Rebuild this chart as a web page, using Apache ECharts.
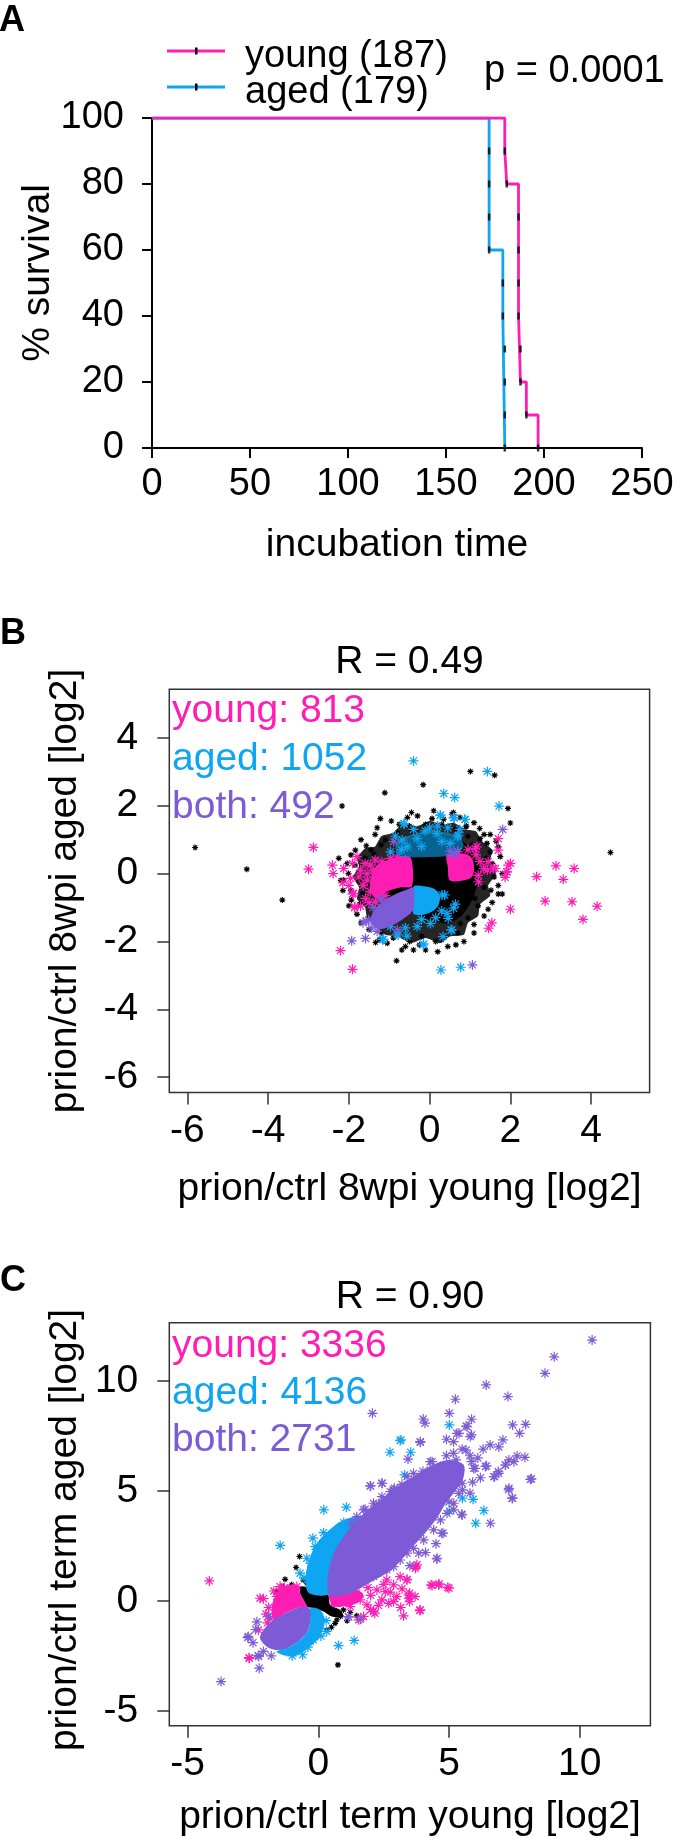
<!DOCTYPE html>
<html><head><meta charset="utf-8">
<script src="https://cdn.jsdelivr.net/npm/echarts@6/dist/echarts.min.js"></script>
<style>html,body{margin:0;padding:0;background:#fff}#c{width:700px;height:1847px}</style>
</head><body><div id="c"></div>
<script>
const PINK='#FF1DB4', BLUE='#0EA5F2', PURPLE='#7E5BD6';
const FONT='"Liberation Sans", Arial, Helvetica, sans-serif';

// ---------- Panel A : Kaplan-Meier ----------
const youngTimes=[0,180,181,187,188,191,197];
const youngSurv=[100,90,80,40,20,10,0];
const agedTimes=[0,172,179,180];
const agedSurv=[100,60,40,0];
const youngDeathTimes=[180,181,187,187,187,187,188,188,191,197];
const agedDeathTimes=[172,172,172,172,179,179,180,180,180,180];
const deathLevels=[90,80,70,60,50,40,30,20,10,0];
const legendLabels=['young (187)','aged (179)'];
const pValueText='p = 0.0001';

// ---------- Panel B : 8wpi ----------
const bTicks=[-6,-4,-2,0,2,4];
const bCounts=['young: 813','aged: 1052','both: 492'];
const bBlackHaloOuter=[[-1.8,0.45],[-1.6,0.75],[-1.35,0.8],[-1.2,1.1],[-0.9,1.2],[-0.7,1.45],[-0.3,1.4],[0.0,1.55],[0.35,1.45],[0.6,1.5],[0.9,1.3],[1.15,1.25],[1.3,0.95],[1.55,0.7],[1.5,0.35],[1.65,0.0],[1.45,-0.35],[1.5,-0.65],[1.25,-0.9],[1.2,-1.25],[0.95,-1.45],[0.85,-1.8],[0.5,-1.85],[0.25,-2.05],[-0.1,-1.9],[-0.45,-2.05],[-0.8,-1.85],[-1.1,-1.8],[-1.35,-1.55],[-1.55,-1.3],[-1.6,-1.0],[-1.8,-0.75],[-1.75,-0.4],[-1.9,-0.1],[-1.75,0.2]];
const bBlackHaloInner=[[-0.81,0.79],[-0.48,1.08],[0.02,1.18],[0.51,1.13],[0.84,0.94],[1.05,0.64],[1.25,0.2],[1.17,-0.39],[1.01,-0.88],[0.76,-1.27],[0.43,-1.47],[0.02,-1.37],[-0.4,-1.17],[-0.81,-0.98],[-1.06,-0.49],[-0.97,0.3]];
const bBlackCore=[[-0.49,0.48],[0.43,0.51],[0.51,-0.19],[0.51,-0.44],[-0.48,-0.44]];
const bPinkLeft=[[-1.3,0.25],[-0.97,0.42],[-0.68,0.51],[-0.46,0.45],[-0.44,-0.37],[-0.73,-0.41],[-1.06,-0.53],[-1.32,-0.73],[-1.47,-0.49],[-1.45,-0.09]];
const bPinkRight=[[0.43,0.54],[0.84,0.59],[1.05,0.45],[1.1,0.1],[1.01,-0.14],[0.51,-0.21],[0.45,0.2]];
const bBlueTop=[[-0.81,0.94],[-0.48,1.13],[0.02,1.28],[0.51,1.18],[0.77,1.03],[0.84,0.79],[0.68,0.57],[0.43,0.51],[-0.48,0.48],[-0.81,0.54]];
const bBlueBottom=[[-0.4,-0.39],[-0.15,-0.37],[0.1,-0.44],[0.25,-0.63],[0.22,-0.93],[0.06,-1.12],[-0.19,-1.22],[-0.41,-1.17]];
const bPurpleBlob=[[-0.4,-0.41],[-0.56,-0.47],[-0.89,-0.63],[-1.18,-0.83],[-1.38,-1.09],[-1.47,-1.37],[-1.38,-1.58],[-1.18,-1.63],[-0.89,-1.51],[-0.6,-1.29],[-0.41,-1.07],[-0.38,-0.73]];
const bBlackStars=[[-5.81,0.77],[-4.53,0.13],[-3.65,-0.78],[-2.17,1.99],[-1.11,2.38],[-0.16,2.62],[1.01,3.01],[1.61,2.9],[4.48,0.62],[-1.22,1.62],[0.59,1.8],[1.94,1.92],[2.0,1.49],[-0.69,-2.25],[-0.82,-2.57],[0.15,-2.0],[-1.34,-2.03],[1.52,-0.49],[1.7,-0.6],[1.12,-0.73],[1.7,0.79],[1.24,1.33],[0.9,1.38],[-1.84,0.69],[-1.57,0.82],[-2.01,0.0],[-2.15,-0.5],[-1.94,-0.78],[-0.44,1.26],[0.06,1.62],[0.91,1.4],[-1.1,0.99],[-1.38,0.57],[-2.04,0.3],[-2.13,-0.19],[-1.73,-0.9],[0.76,-1.47],[0.51,-1.71],[1.42,0.89],[1.5,0.64],[1.25,1.03],[1.05,0.84],[-1.6,0.45],[-1.5,-0.3],[-1.65,-0.6],[-1.4,-1.3],[-1.2,-1.75],[-0.9,-1.9],[-0.5,-2.0],[-0.2,-1.85],[0.3,-1.95],[0.7,-1.75],[0.95,-1.3],[1.2,-0.95],[1.35,-0.4],[1.45,0.1],[1.4,0.45],[1.2,0.75],[0.95,1.1],[0.65,1.3],[0.3,1.45],[-0.1,1.45],[-0.5,1.4],[-0.8,1.2],[-1.2,0.85],[-1.45,0.7],[-0.3,1.7],[0.35,1.6],[-0.75,1.45],[1.1,-1.5],[0.2,-2.3],[-0.4,-2.25],[1.6,-0.1],[1.55,0.3],[-1.75,-0.2],[-1.85,0.25],[-1.95,0.55],[-1.7,1.0],[-1.35,1.15],[-0.95,1.55],[-0.45,1.8],[0.1,1.85],[0.75,1.65],[1.1,1.5],[1.5,1.15],[1.75,0.5],[1.8,0.0],[1.7,-0.35],[1.55,-0.85],[1.35,-1.25],[1.1,-1.75],[0.85,-2.0],[0.45,-2.15],[-0.1,-2.25],[-0.6,-2.15],[-1.05,-2.05],[-1.5,-1.65],[-1.8,-1.2],[-2.0,-0.95],[-2.2,-0.2],[-2.25,0.45],[-1.3,1.35],[-0.55,1.65],[0.55,1.75],[1.35,1.15],[1.65,0.95],[1.8,-0.6],[1.45,-1.05],[0.65,-2.1],[-0.25,-2.1],[-1.25,-1.95],[-1.7,-1.45],[-1.95,-0.5]];
const bPinkStars=[[-2.88,0.77],[-3.0,0.13],[-2.41,0.25],[-2.39,0.0],[-2.15,-0.27],[-1.91,0.3],[-1.91,-0.6],[-1.86,-1.0],[-2.21,-2.27],[-1.91,-2.82],[1.7,1.03],[1.7,0.69],[1.17,0.79],[2.0,0.3],[1.92,0.05],[1.87,-0.11],[1.63,0.15],[1.43,0.1],[2.65,-0.09],[3.13,0.23],[3.58,0.15],[3.31,-0.17],[2.86,-0.81],[3.53,-0.83],[4.15,-0.96],[3.8,-1.35],[2.0,-1.05],[1.54,-1.45],[1.46,-1.61],[1.21,-0.24],[-1.85,-0.98],[-1.71,-0.96],[-1.88,-0.58],[-1.96,-0.14],[-1.71,0.1],[-1.55,-0.19],[-1.47,-0.53],[-1.59,-0.73],[-2.13,0.15],[-1.47,0.25],[-1.18,0.35],[-0.97,0.45],[-0.81,0.49],[-0.6,0.4],[-1.34,-0.83],[-1.65,-0.35],[-1.55,0.0],[-1.4,0.1],[-1.75,-0.1],[-1.2,-0.75],[-1.5,-0.85],[-2.0,-0.35],[1.13,0.74],[1.34,0.15],[1.58,0.15],[1.95,0.25],[1.91,0.05],[1.25,0.35],[1.2,-0.05],[1.15,0.55],[0.95,0.7],[0.7,0.65],[1.45,0.35],[-1.35,0.4],[-1.6,0.3],[-1.25,-0.6],[-1.1,-0.65],[-1.8,0.5]];
const bBlueStars=[[-0.4,3.32],[1.43,3.01],[0.35,2.36],[0.62,2.24],[1.72,1.99],[0.27,1.72],[0.59,1.65],[0.87,1.6],[-0.64,1.46],[0.71,1.13],[0.28,-2.84],[0.77,-2.76],[-0.16,-2.1],[-1.17,-1.94],[-0.78,-1.81],[-0.56,-1.84],[0.53,-1.66],[0.46,-1.32],[0.64,-0.9],[0.37,-0.63],[-0.63,1.48],[-0.11,1.26],[0.26,1.72],[0.61,1.64],[0.88,1.59],[0.69,1.1],[-0.97,0.64],[-0.56,0.79],[-0.68,0.99],[0.18,1.18],[0.51,0.89],[-0.31,1.03],[-1.14,-1.94],[-0.81,-1.78],[-0.15,-2.07],[0.33,-1.86],[0.55,-1.66],[0.43,-1.17],[0.31,-0.63],[0.59,-1.02],[0.02,-1.47],[-0.31,-1.56],[-0.97,-1.56],[-0.6,-1.6],[0.15,-1.3],[0.3,-1.1],[-0.2,-1.35],[0.0,1.35],[-0.85,1.1],[0.45,1.35],[-0.4,1.3],[0.2,1.4],[0.75,1.3],[-0.7,0.7],[0.3,0.95],[-0.2,0.8]];
const bPurpleStars=[[1.06,-2.69],[-1.93,-1.98],[-1.59,-1.91],[-1.57,-1.39],[1.81,1.3],[0.62,0.57],[-1.51,-1.37],[-1.65,-1.45],[-1.45,-1.6],[-1.3,-1.7],[-0.89,0.94],[0.51,0.66],[-1.4,-1.0],[-1.2,-0.75],[-0.8,-1.65]];

// ---------- Panel C : terminal ----------
const cTicks=[-5,0,5,10];
const cCounts=['young: 3336','aged: 4136','both: 2731'];
const cBlueBand=[[-0.35,0.35],[-0.5,0.95],[-0.35,1.86],[-0.06,2.62],[0.5,3.3],[1.0,3.7],[1.6,3.8],[1.3,3.3],[0.9,2.7],[0.55,1.9],[0.38,1.0],[0.4,0.3]];
const cPurpleMain=[[0.4,0.25],[0.35,0.9],[0.4,1.4],[0.6,2.2],[0.95,2.9],[1.5,3.7],[2.2,4.45],[3.1,5.25],[4.1,6.0],[4.9,6.4],[5.55,6.2],[5.55,5.6],[5.3,5.1],[4.85,4.4],[4.5,3.7],[3.95,2.9],[3.4,2.2],[2.8,1.4],[2.0,0.85],[1.25,0.35],[0.7,0.2]];
const cBlueLower=[[-0.31,-0.33],[0.07,-0.41],[0.25,-0.86],[0.12,-1.47],[-0.19,-1.95],[-0.7,-2.4],[-1.21,-2.5],[-1.6,-2.3],[-1.08,-2.08],[-0.7,-1.77],[-0.38,-1.32],[-0.31,-0.86]];
const cPurpleLower=[[-0.31,-0.41],[-0.44,-0.26],[-0.83,-0.33],[-1.27,-0.56],[-1.72,-0.86],[-2.1,-1.32],[-2.23,-1.7],[-1.97,-2.08],[-1.59,-2.23],[-1.08,-2.08],[-0.7,-1.77],[-0.38,-1.32],[-0.31,-0.86]];
const cBlackCore=[[-0.7,0.65],[-0.31,0.58],[0.07,0.35],[0.39,0.27],[0.45,-0.18],[0.83,-0.41],[0.96,-0.71],[0.52,-0.71],[0.2,-0.48],[-0.19,-0.33],[-0.44,-0.26],[-0.57,0.05],[-0.7,0.35]];
const cPinkLeft=[[-1.46,0.58],[-0.83,0.73],[-0.7,0.35],[-0.57,0.05],[-0.44,-0.26],[-0.83,-0.33],[-1.27,-0.56],[-1.72,-0.86],[-1.78,-0.26],[-1.66,0.2]];
const cPinkRight=[[0.39,0.27],[0.96,0.35],[1.47,0.5],[1.73,0.27],[1.47,-0.11],[0.96,-0.26],[0.52,-0.26],[0.45,0.0]];
const cBlackStars=[[0.75,-2.91],[-0.72,2.02],[-0.85,1.52],[-1.27,0.98],[-1.4,0.65],[-1.59,0.42],[0.55,2.77],[-0.12,1.64],[-0.44,0.8],[0.71,-0.86],[0.32,-1.32],[0.64,-1.02],[-0.76,-2.23],[1.22,-0.53],[1.47,-0.68],[-1.02,0.73],[-0.57,0.95],[0.96,-0.41],[-0.9,0.3],[-1.1,0.45],[0.6,-0.6],[0.85,-0.7],[-0.3,1.1],[1.1,-0.9],[0.5,-1.2]];
const cPinkStars=[[-4.17,0.91],[-2.65,-2.58],[-2.23,0.12],[-2.1,0.1],[-1.46,0.65],[-1.59,0.2],[-1.85,-0.79],[-2.29,-1.32],[-2.64,-2.61],[-1.21,0.35],[-0.82,0.65],[-1.9,-0.3],[-2.0,-0.6],[-1.7,0.45],[-1.3,0.6],[-1.0,0.55],[-1.95,-1.0],[3.73,1.56],[3.39,0.98],[4.35,0.7],[4.62,0.77],[5.0,0.58],[3.9,-0.41],[3.26,-0.68],[3.46,0.12],[3.49,0.35],[2.16,-0.56],[3.77,1.64],[3.71,1.48],[4.6,0.73],[4.95,0.61],[4.31,0.73],[3.88,-0.44],[3.49,-0.03],[3.45,0.27],[3.0,0.2],[3.13,1.1],[3.39,0.95],[2.88,0.73],[2.69,-0.11],[2.43,0.05],[2.11,-0.48],[1.86,-0.18],[2.24,0.5],[2.62,0.95],[2.88,-0.03],[2.56,0.42],[1.6,0.05],[1.47,0.35],[1.22,-0.26],[1.73,-0.71],[1.54,-0.86],[2.0,0.25],[2.3,-0.2],[2.75,0.4],[3.15,-0.3],[2.5,0.75],[1.9,0.6],[1.3,0.1],[2.0,-0.4],[3.7,0.2],[3.2,0.55]];
const cBlueStars=[[3.16,7.32],[2.74,6.76],[3.53,6.76],[5.01,8.0],[3.3,5.73],[5.14,5.12],[5.51,4.67],[5.92,4.62],[6.33,4.11],[6.02,3.53],[5.01,4.09],[0.21,4.14],[1.07,4.26],[0.97,3.56],[-1.46,2.52],[-0.21,2.85],[0.77,-2.03],[1.37,-1.8],[-0.12,2.47],[-0.44,1.94],[-0.7,1.26],[0.32,-1.39],[-0.19,-1.77],[-0.89,-2.3],[-1.27,-2.23],[3.13,7.29],[0.0,2.3],[0.4,2.7],[0.75,3.05],[-0.3,1.7],[-0.55,1.05],[1.2,3.4],[1.6,3.7],[0.2,3.1],[0.3,-0.9],[0.1,-1.6],[-0.4,-2.1],[-0.6,-2.45],[-1.0,-2.5]];
const cPurpleStars=[[6.42,9.82],[5.24,9.17],[7.25,9.29],[2.07,8.53],[4.01,8.27],[4.08,8.08],[5.01,8.53],[5.86,8.26],[5.65,7.95],[5.38,7.62],[5.86,7.55],[4.9,7.35],[5.17,7.24],[3.9,7.21],[7.43,8.0],[7.93,8.03],[7.7,7.62],[7.06,7.32],[6.57,7.09],[5.65,6.86],[5.17,6.71],[5.27,6.41],[5.86,6.33],[6.0,6.03],[6.43,6.14],[7.6,6.59],[7.9,6.53],[7.29,6.41],[7.15,6.18],[6.88,5.88],[6.74,5.65],[8.15,5.55],[7.29,5.12],[7.43,4.67],[3.43,6.45],[4.35,6.33],[4.76,5.95],[1.98,5.23],[2.44,5.35],[2.91,5.12],[5.51,5.05],[5.48,3.94],[6.58,3.53],[4.72,3.08],[4.53,1.91],[1.79,4.17],[-3.72,-3.67],[-2.26,-3.06],[-2.28,-2.53],[-2.7,-1.67],[1.16,-0.74],[1.61,-0.83],[10.47,11.86],[9.02,11.1],[8.67,10.35],[1.79,3.23],[2.0,5.23],[2.43,5.35],[2.88,5.05],[3.39,5.65],[3.64,5.8],[3.9,7.24],[4.28,6.33],[4.41,5.8],[5.3,7.62],[5.69,7.92],[5.81,7.47],[5.94,6.03],[6.39,6.11],[6.71,5.65],[6.9,5.8],[7.16,6.18],[7.48,6.33],[8.11,5.53],[7.28,5.05],[7.41,4.67],[5.5,3.91],[5.18,4.14],[4.77,3.08],[4.54,1.94],[1.15,-0.71],[-2.68,-1.62],[-2.3,-2.48],[4.9,6.6],[5.5,6.9],[6.1,6.5],[5.9,5.4],[5.0,4.5],[3.7,3.2],[3.2,2.3],[2.7,1.8],[1.3,3.0],[2.3,4.4],[3.2,5.3],[4.0,5.9],[3.13,1.86],[3.64,2.39],[4.03,2.77],[4.41,3.23],[4.67,3.68],[4.92,3.98],[5.18,4.44],[5.37,4.89],[5.5,5.35],[2.62,1.41],[2.11,1.11],[2.88,1.56],[3.39,2.17],[3.84,2.17],[4.28,5.95],[4.67,6.11],[3.9,5.65],[3.52,5.27],[3.13,5.12],[2.75,4.97],[2.43,4.74],[2.11,4.44],[1.73,4.14],[1.47,3.83],[1.28,3.53],[5.8,6.6],[6.3,6.9],[6.9,7.0],[6.2,5.6],[5.8,4.9],[4.5,2.6],[4.1,2.2],[3.5,1.6],[-2.4,-1.3],[-2.5,-1.9],[-2.1,-2.3],[-1.8,-2.5],[-2.35,-0.95],[-1.9,-0.7]];

// ---------- helpers ----------
function starPath(w){
  const L=10,a=7.0711,k=w*0.7071;
  const r=(p)=>'M'+p[0]+','+p[1]+'L'+p[2]+','+p[3]+'L'+p[4]+','+p[5]+'L'+p[6]+','+p[7]+'Z';
  return 'path://'+r([-w,-L,w,-L,w,L,-w,L])+r([-L,-w,L,-w,L,w,-L,w])+
    r([-a+k,-a-k,a+k,a-k,a-k,a+k,-a-k,-a+k])+r([-a-k,a-k,a-k,-a-k,a+k,-a+k,-a+k,a+k]);
}
const STAR_C=starPath(1.2), STAR_K=starPath(1.9);
function polySeries(poly,gi,color,opacity,z,smooth){
  return {type:'custom',xAxisIndex:gi,yAxisIndex:gi,data:[poly[0]],silent:true,z:z,
    renderItem:function(p,api){return {type:'polygon',shape:{points:poly.map(v=>api.coord(v)),smooth:smooth==null?0.3:smooth},style:{fill:color,opacity:opacity}};}};
}
function starSeries(pts,gi,color,size,sym,z){
  return {type:'scatter',xAxisIndex:gi,yAxisIndex:gi,data:pts,symbol:sym,symbolSize:size,silent:true,z:z,itemStyle:{color:color,opacity:1}};
}
function sciAxes(gi,xmin,xmax,ymin,ymax,ticks){
  const tick={show:true,inside:false,length:12,lineStyle:{color:'#333',width:1.5},customValues:ticks};
  const lab={customValues:ticks,fontSize:39,color:'#000',fontFamily:FONT};
  return {
    x:{type:'value',gridIndex:gi,min:xmin,max:xmax,position:'bottom',axisLine:{show:false,onZero:false},axisTick:tick,axisLabel:Object.assign({margin:19},lab),splitLine:{show:false}},
    y:{type:'value',gridIndex:gi,min:ymin,max:ymax,position:'left',axisLine:{show:false,onZero:false},axisTick:tick,axisLabel:Object.assign({margin:31},lab),splitLine:{show:false}}
  };
}
function txt(s,x,y,size,color,align,opts,weight){
  return Object.assign({type:'text',x:x,y:y,silent:true,z:100,style:{text:s,fontSize:size,fontWeight:weight||'normal',fontFamily:FONT,fill:color,textAlign:align,align:align,textVerticalAlign:'middle',verticalAlign:'middle'}},opts||{});
}

const axB=sciAxes(1,-6.45,5.45,-6.45,5.43,bTicks);
const axC=sciAxes(2,-5.7,12.7,-5.68,12.65,cTicks);

const aAxisLine={show:true,onZero:false,lineStyle:{color:'#000',width:2}};
const aTick={show:true,inside:false,length:10,lineStyle:{color:'#000',width:2}};

const option={
  animation:false,
  textStyle:{fontFamily:FONT},
  grid:[
    {left:152,top:118,width:490,height:330,show:false},
    {left:169.3,top:689.3,width:480.3,height:403.2,show:true,borderColor:'#333',borderWidth:1.5,backgroundColor:'transparent'},
    {left:169.3,top:1322.7,width:481.1,height:403.1,show:true,borderColor:'#333',borderWidth:1.5,backgroundColor:'transparent'}
  ],
  xAxis:[
    {type:'value',gridIndex:0,min:0,max:250,interval:50,axisLine:aAxisLine,axisTick:aTick,splitLine:{show:false},axisLabel:{fontSize:38,color:'#000',margin:18,fontFamily:FONT}},
    axB.x, axC.x
  ],
  yAxis:[
    {type:'value',gridIndex:0,min:0,max:100,interval:20,axisLine:aAxisLine,axisTick:aTick,splitLine:{show:false},axisLabel:{fontSize:38,color:'#000',margin:28,fontFamily:FONT}},
    axB.y, axC.y
  ],
  series:[
    {type:'line',name:legendLabels[1],xAxisIndex:0,yAxisIndex:0,step:'end',showSymbol:false,symbol:'none',
      data:agedTimes.map((t,i)=>[t,agedSurv[i]]),lineStyle:{color:BLUE,width:2.8},itemStyle:{color:BLUE},z:3},
    {type:'line',name:legendLabels[0],xAxisIndex:0,yAxisIndex:0,step:'end',showSymbol:false,symbol:'none',
      data:youngTimes.map((t,i)=>[t,youngSurv[i]]),lineStyle:{color:PINK,width:2.8},itemStyle:{color:PINK},z:4},
    {type:'scatter',xAxisIndex:0,yAxisIndex:0,symbol:'rect',symbolSize:[2.5,7],itemStyle:{color:'#000'},z:5,silent:true,
      data:agedDeathTimes.map((t,i)=>[t,deathLevels[i]]).concat(youngDeathTimes.map((t,i)=>[t,deathLevels[i]]))},

    polySeries(bBlackHaloOuter,1,'#000',0.85,2,0.15),
    polySeries(bBlackHaloInner,1,'#000',1,2),
    polySeries(bBlackCore,1,'#000',1,2),
    starSeries(bBlackStars,1,'#000',6,STAR_K,3),
    polySeries(bPinkLeft,1,PINK,1,4),
    polySeries(bPinkRight,1,PINK,1,4),
    starSeries(bPinkStars,1,PINK,10,STAR_C,5),
    polySeries(bBlueTop,1,BLUE,0.6,6),
    polySeries(bBlueBottom,1,BLUE,1,6),
    starSeries(bBlueStars,1,BLUE,10,STAR_C,7),
    polySeries(bPurpleBlob,1,PURPLE,1,8),
    starSeries(bPurpleStars,1,PURPLE,10,STAR_C,9),

    polySeries(cBlackCore,2,'#000',1,2),
    starSeries(cBlackStars,2,'#000',6,STAR_K,3),
    polySeries(cPinkLeft,2,PINK,1,4),
    polySeries(cPinkRight,2,PINK,1,4),
    starSeries(cPinkStars,2,PINK,10,STAR_C,5),
    polySeries(cBlueBand,2,BLUE,1,6),
    polySeries(cBlueLower,2,BLUE,1,6),
    starSeries(cBlueStars,2,BLUE,10,STAR_C,7),
    polySeries(cPurpleMain,2,PURPLE,1,8),
    polySeries(cPurpleLower,2,PURPLE,1,8),
    starSeries(cPurpleStars,2,PURPLE,10,STAR_C,9)
  ],
  graphic:[
    txt('A',12,21,36,'#000','center',null,'bold'),
    {type:'line',silent:true,shape:{x1:167,y1:51,x2:225,y2:51},style:{stroke:PINK,lineWidth:2.8}},
    {type:'line',silent:true,shape:{x1:167,y1:87,x2:225,y2:87},style:{stroke:BLUE,lineWidth:2.8}},
    {type:'rect',silent:true,z:101,shape:{x:195,y:47.5,width:2.5,height:7},style:{fill:'#000'}},
    {type:'rect',silent:true,z:101,shape:{x:195,y:83.5,width:2.5,height:7},style:{fill:'#000'}},
    txt(legendLabels[0],245,57,38,'#000','left'),
    txt(legendLabels[1],245,93,38,'#000','left'),
    txt(pValueText,484,72,38,'#000','left'),
    txt('% survival',38,273,39,'#000','center',{rotation:Math.PI/2}),
    txt('incubation time',397,545,39,'#000','center'),

    txt('B',13,634,36,'#000','center',null,'bold'),
    txt('R = 0.49',409.5,662,39,'#000','center'),
    txt(bCounts[0],172,711,39,PINK,'left'),
    txt(bCounts[1],172,759,39,BLUE,'left'),
    txt(bCounts[2],172,807,39,PURPLE,'left'),
    txt('prion/ctrl 8wpi aged [log2]',65,891,39,'#000','center',{rotation:Math.PI/2}),
    txt('prion/ctrl 8wpi young [log2]',409.5,1189,39,'#000','center'),

    txt('C',13,1281,36,'#000','center',null,'bold'),
    txt('R = 0.90',410,1297,39,'#000','center'),
    txt(cCounts[0],172,1346,39,PINK,'left'),
    txt(cCounts[1],172,1393,39,BLUE,'left'),
    txt(cCounts[2],172,1440,39,PURPLE,'left'),
    txt('prion/ctrl term aged [log2]',65,1530,39,'#000','center',{rotation:Math.PI/2}),
    txt('prion/ctrl term young [log2]',410,1817,39,'#000','center')
  ]
};
const chart=echarts.init(document.getElementById('c'),null,{renderer:'canvas',width:700,height:1847});
chart.setOption(option);
</script></body></html>
